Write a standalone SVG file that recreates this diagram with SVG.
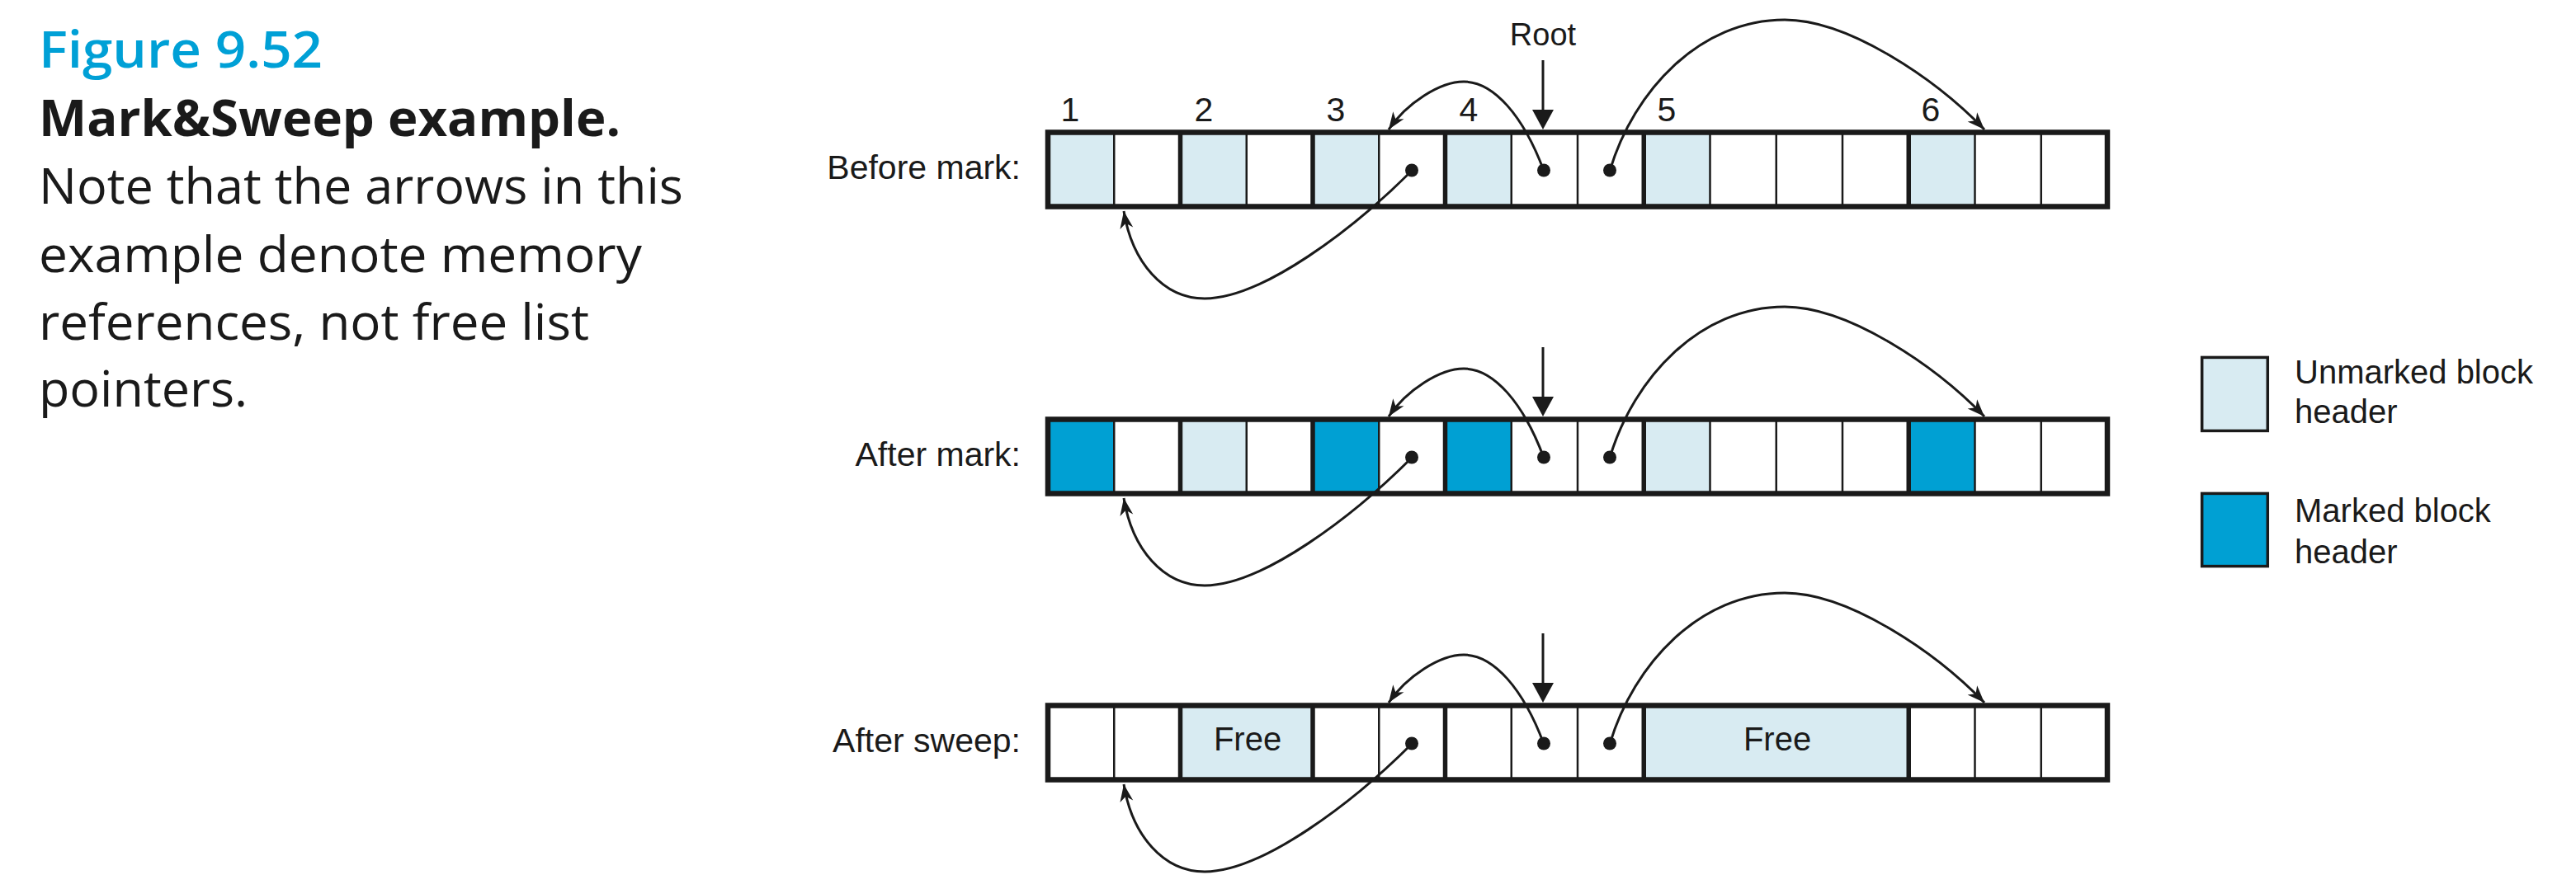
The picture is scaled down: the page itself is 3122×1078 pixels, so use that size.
<svg xmlns="http://www.w3.org/2000/svg" width="3122" height="1078" viewBox="0 0 3122 1078">
<defs>
<style>
.cap{font-family:"Open Sans","Noto Sans",sans-serif}
.fig{font-size:62px;font-weight:600;fill:#00a0d6}
.ttl{font-size:60px;font-weight:700;fill:#1a1a1a}
.body{font-size:60px;font-weight:400;fill:#1a1a1a}
.lbl{font-family:"Liberation Sans",Arial,Helvetica,sans-serif;fill:#1a1a1a}
.row{font-size:41px;text-anchor:end}
.num{font-size:41px;text-anchor:middle}
.free{font-size:40px;text-anchor:middle}
.leg{font-size:40px}
.lt{fill:#d8ebf2}
.dk{fill:#00a0d3}
.thin{stroke:#1a1a1a;stroke-width:2.5}
.thick{stroke:#1a1a1a;stroke-width:5.5}
.frame{fill:none;stroke:#1a1a1a;stroke-width:6.5}
.lbox{stroke:#1a1a1a;stroke-width:3.5}
.conn{fill:none;stroke:#1a1a1a;stroke-width:3;marker-end:url(#ah)}
.ink{fill:#1a1a1a}
.root{stroke:#1a1a1a;stroke-width:3}
</style>
<marker id="ah" markerUnits="userSpaceOnUse" viewBox="-24 -12 28 24" markerWidth="28" markerHeight="24" refX="0" refY="0" orient="auto">
<path d="M0,0 L-21,-8 L-15,0 L-21,8 Z" fill="#1a1a1a"/>
</marker>
<g id="thinlines-std">
<line class="thin" x1="1350.25" y1="160.5" x2="1350.25" y2="250.5"/>
<line class="thin" x1="1510.75" y1="160.5" x2="1510.75" y2="250.5"/>
<line class="thin" x1="1671.25" y1="160.5" x2="1671.25" y2="250.5"/>
<line class="thin" x1="1831.75" y1="160.5" x2="1831.75" y2="250.5"/>
<line class="thin" x1="1912" y1="160.5" x2="1912" y2="250.5"/>
<line class="thin" x1="2072.5" y1="160.5" x2="2072.5" y2="250.5"/>
<line class="thin" x1="2152.75" y1="160.5" x2="2152.75" y2="250.5"/>
<line class="thin" x1="2233" y1="160.5" x2="2233" y2="250.5"/>
<line class="thin" x1="2393.5" y1="160.5" x2="2393.5" y2="250.5"/>
<line class="thin" x1="2473.75" y1="160.5" x2="2473.75" y2="250.5"/>
</g>
<g id="thicklines">
<line class="thick" x1="1430.5" y1="158" x2="1430.5" y2="253"/>
<line class="thick" x1="1591" y1="158" x2="1591" y2="253"/>
<line class="thick" x1="1751.5" y1="158" x2="1751.5" y2="253"/>
<line class="thick" x1="1992.25" y1="158" x2="1992.25" y2="253"/>
<line class="thick" x1="2313.25" y1="158" x2="2313.25" y2="253"/>
<rect class="frame" x="1270" y="160.5" width="1284" height="90"/>
</g>
<g id="pointers">
<path class="conn" d="M1711,207 C1640,278 1530,362 1460,362 C1410,362 1372,318 1362,256"/>
<path class="conn" d="M1871,207 C1846,140 1810,99 1774,99 C1745,99 1705,125 1683,157"/>
<path class="conn" d="M1951,207 C1980,110 2060,24 2163,24 C2240,24 2345,95 2405,157"/>
<line class="root" x1="1870" y1="73" x2="1870" y2="136"/>
<polygon class="ink" points="1857,133 1883,133 1870,157"/>
<circle class="ink" cx="1711" cy="206.5" r="8"/>
<circle class="ink" cx="1871" cy="206.5" r="8"/>
<circle class="ink" cx="1951" cy="206.5" r="8"/>
</g>
</defs>
<rect width="3122" height="1078" fill="#ffffff"/>

<g id="caption" class="cap">
<text class="fig" x="47" y="82" textLength="344" lengthAdjust="spacingAndGlyphs">Figure 9.52</text>
<text class="ttl" x="47" y="165" textLength="705" lengthAdjust="spacingAndGlyphs">Mark&amp;Sweep example.</text>
<text class="body" x="47" y="247" textLength="781" lengthAdjust="spacingAndGlyphs">Note that the arrows in this</text>
<text class="body" x="47" y="330" textLength="731" lengthAdjust="spacingAndGlyphs">example denote memory</text>
<text class="body" x="47" y="412" textLength="667" lengthAdjust="spacingAndGlyphs">references, not free list</text>
<text class="body" x="47" y="493" textLength="253" lengthAdjust="spacingAndGlyphs">pointers.</text>
</g>

<g id="labels" class="lbl">
<text class="row" x="1237" y="217">Before mark:</text>
<text class="row" x="1237" y="565">After mark:</text>
<text class="row" x="1237" y="912">After sweep:</text>
<text class="num" x="1297" y="147">1</text>
<text class="num" x="1459" y="147">2</text>
<text class="num" x="1619" y="147">3</text>
<text class="num" x="1780" y="147">4</text>
<text class="num" x="2020" y="147">5</text>
<text class="num" x="2340" y="147">6</text>
<text class="lbl" x="1870" y="55" font-size="38" text-anchor="middle">Root</text>
</g>

<g id="heap-before-mark">
<rect class="lt" x="1270" y="160.5" width="80.25" height="90"/>
<rect class="lt" x="1430.5" y="160.5" width="80.25" height="90"/>
<rect class="lt" x="1591" y="160.5" width="80.25" height="90"/>
<rect class="lt" x="1751.5" y="160.5" width="80.25" height="90"/>
<rect class="lt" x="1992.25" y="160.5" width="80.25" height="90"/>
<rect class="lt" x="2313.25" y="160.5" width="80.25" height="90"/>
<use href="#thinlines-std"/>
<use href="#thicklines"/>
</g>

<g id="heap-after-mark" transform="translate(0,348)">
<rect class="dk" x="1270" y="160.5" width="80.25" height="90"/>
<rect class="lt" x="1430.5" y="160.5" width="80.25" height="90"/>
<rect class="dk" x="1591" y="160.5" width="80.25" height="90"/>
<rect class="dk" x="1751.5" y="160.5" width="80.25" height="90"/>
<rect class="lt" x="1992.25" y="160.5" width="80.25" height="90"/>
<rect class="dk" x="2313.25" y="160.5" width="80.25" height="90"/>
<use href="#thinlines-std"/>
<use href="#thicklines"/>
</g>

<g id="heap-after-sweep" transform="translate(0,695)">
<rect class="lt" x="1430.5" y="160.5" width="160.5" height="90"/>
<rect class="lt" x="1992.25" y="160.5" width="321" height="90"/>
<line class="thin" x1="1350.25" y1="160.5" x2="1350.25" y2="250.5"/>
<line class="thin" x1="1671.25" y1="160.5" x2="1671.25" y2="250.5"/>
<line class="thin" x1="1831.75" y1="160.5" x2="1831.75" y2="250.5"/>
<line class="thin" x1="1912" y1="160.5" x2="1912" y2="250.5"/>
<line class="thin" x1="2393.5" y1="160.5" x2="2393.5" y2="250.5"/>
<line class="thin" x1="2473.75" y1="160.5" x2="2473.75" y2="250.5"/>
<use href="#thicklines"/>
<text class="lbl free" x="1512" y="215">Free</text>
<text class="lbl free" x="2154" y="215">Free</text>
</g>

<g id="connectors">
<use href="#pointers"/>
<use href="#pointers" transform="translate(0,348)"/>
<use href="#pointers" transform="translate(0,695)"/>
</g>

<g id="legend-unmarked">
<rect class="lt lbox" x="2668.7" y="433.4" width="79.6" height="89"/>
<text class="lbl leg" x="2781" y="465">Unmarked block</text>
<text class="lbl leg" x="2781" y="513">header</text>
</g>
<g id="legend-marked">
<rect class="dk lbox" x="2668.7" y="598.4" width="79.6" height="88.2"/>
<text class="lbl leg" x="2781" y="633">Marked block</text>
<text class="lbl leg" x="2781" y="683">header</text>
</g>
</svg>
